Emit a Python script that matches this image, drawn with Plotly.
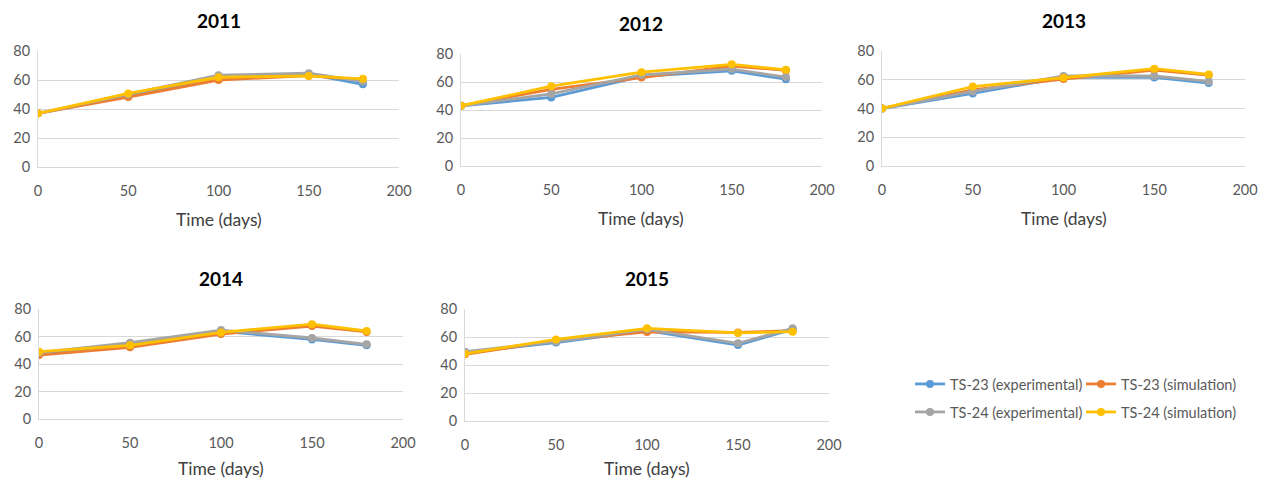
import plotly.graph_objects as go

# Sampling days (shared by every season)
days = [0, 50, 100, 150, 180]

years = ["2011", "2012", "2013", "2014", "2015"]

# Measured and simulated values per season
ts23_exp = {
    "2011": [37, 49, 62, 64, 57],
    "2012": [43, 49, 64, 68, 62],
    "2013": [40, 50.5, 61.6, 61.6, 57.7],
    "2014": [47.8, 54.5, 63.8, 57.9, 53.6],
    "2015": [48.8, 56, 64.5, 54.3, 65.5],
}
ts23_sim = {
    "2011": [37, 48.2, 60, 63, 60],
    "2012": [43, 54.8, 63.2, 71.4, 68.3],
    "2013": [40, 53, 60.5, 66.7, 63.3],
    "2014": [46.5, 52.1, 61.8, 67.6, 63.3],
    "2015": [47.6, 57.4, 63.6, 63.3, 64.5],
}
ts24_exp = {
    "2011": [37, 50, 63.3, 64.7, 59],
    "2012": [43, 51.5, 65, 69.2, 63.5],
    "2013": [40, 51.9, 62.6, 62.6, 58.8],
    "2014": [48.2, 55.5, 64.7, 58.9, 54.3],
    "2015": [49.5, 56.7, 65.5, 55.5, 66.2],
}
ts24_sim = {
    "2011": [37, 50.7, 61.9, 62.8, 60.8],
    "2012": [43, 57, 67, 72.6, 68.7],
    "2013": [40, 55.3, 61.4, 67.7, 63.7],
    "2014": [49, 53.6, 63, 69, 64],
    "2015": [48.1, 58.3, 66.2, 62.9, 63.8],
}

# (label, values, colour, legend row)
series = [
    ("TS-23 (experimental)", ts23_exp, "#5B9BD5", "legend"),
    ("TS-23 (simulation)", ts23_sim, "#ED7D31", "legend"),
    ("TS-24 (experimental)", ts24_exp, "#A5A5A5", "legend2"),
    ("TS-24 (simulation)", ts24_sim, "#FFC000", "legend2"),
]

x_ticks = [0, 50, 100, 150, 200]
y_ticks = [0, 20, 40, 60, 80]

W, H = 1263, 478
FONT = "Lato"

# Panel plot areas in pixels: (left, right, top, bottom, x-title offset)
panels = [
    (38, 399, 51, 167, 52),
    (461, 822, 54, 166, 52),
    (882, 1245, 51, 166, 52),
    (39, 403, 309, 419, 49),
    (465, 829, 309, 421, 47),
]

fig = go.Figure()

for i, year in enumerate(years):
    ax = "" if i == 0 else str(i + 1)
    for name, data, color, leg in series:
        fig.add_trace(go.Scatter(
            x=days, y=data[year], name=name, mode="lines+markers",
            line=dict(color=color, width=2.8),
            marker=dict(color=color, size=8),
            xaxis="x" + ax, yaxis="y" + ax,
            legend=leg, legendgroup=name, showlegend=(i == 0),
        ))


def legend_row(y_px):
    return dict(
        orientation="h", xref="container", yref="container",
        x=910 / W, y=1 - y_px / H, xanchor="left", yanchor="middle",
        entrywidth=126, font=dict(size=14.5, color="#595959", family=FONT),
        bgcolor="rgba(0,0,0,0)", traceorder="normal",
    )


layout = dict(
    width=W, height=H,
    margin=dict(l=0, r=0, t=0, b=0, autoexpand=False),
    paper_bgcolor="white", plot_bgcolor="white",
    font=dict(family=FONT, color="#595959", size=14),
    showlegend=True,
    legend=legend_row(384),
    legend2=legend_row(412),
    annotations=[],
)

for i, year in enumerate(years):
    l, r, t, b, off = panels[i]
    ax = "" if i == 0 else str(i + 1)
    layout["xaxis" + ax] = dict(
        domain=[l / W, r / W], range=[0, 200], anchor="y" + ax,
        tickvals=x_ticks, showgrid=False, zeroline=False,
        showline=True, linecolor="#D9D9D9", linewidth=1,
        ticks="", ticklabelstandoff=11, tickfont=dict(size=14.5, color="#595959"),
        fixedrange=True,
    )
    layout["yaxis" + ax] = dict(
        domain=[1 - b / H, 1 - t / H], range=[0, 80], anchor="x" + ax,
        tickvals=y_ticks, showgrid=True, gridcolor="#D9D9D9", gridwidth=1,
        zeroline=False, showline=True, linecolor="#D9D9D9", linewidth=1,
        ticks="", ticklabelstandoff=4, tickfont=dict(size=14.5, color="#595959"),
        fixedrange=True,
    )
    cx = (l + r) / 2 / W
    layout["annotations"].append(dict(
        text="<b>" + year + "</b>", x=cx, y=1 - (t - 31) / H,
        xref="paper", yref="paper", xanchor="center", yanchor="middle",
        showarrow=False,
        font=dict(size=19, color="#000000", family=FONT),
    ))
    layout["annotations"].append(dict(
        text="Time (days)", x=cx, y=1 - (b + off) / H,
        xref="paper", yref="paper", xanchor="center", yanchor="middle",
        showarrow=False,
        font=dict(size=17.5, color="#404040", family=FONT),
    ))

fig.update_layout(**layout)
fig.write_html("out.html")
